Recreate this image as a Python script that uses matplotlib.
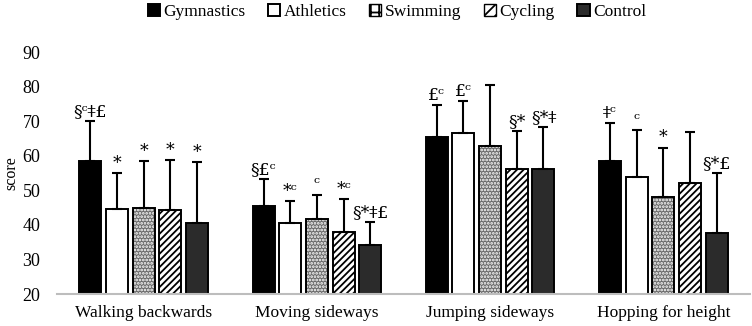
import matplotlib
matplotlib.use("Agg")
import matplotlib.pyplot as plt
import numpy as np

categories = ["Walking backwards", "Moving sideways", "Jumping sideways", "Hopping for height"]
groups = ["Gymnastics", "Athletics", "Swimming", "Cycling", "Control"]

gymnastics = [58.5, 45.5, 65.5, 58.5]
athletics = [44.6, 40.6, 66.5, 53.9]
swimming = [44.8, 41.7, 62.8, 48.0]
cycling = [44.3, 38.0, 56.1, 52.2]
control = [40.5, 34.2, 56.1, 37.6]

gymnastics_sd = [11.5, 7.8, 9.2, 11.1]
athletics_sd = [10.3, 6.4, 9.3, 13.7]
swimming_sd = [13.8, 7.1, 17.7, 14.4]
cycling_sd = [14.5, 9.5, 11.1, 14.6]
control_sd = [17.8, 6.7, 12.3, 17.5]

gymnastics_lbl = ["§ᶜǂ£", "§£ᶜ", "£ᶜ", "ǂᶜ"]
athletics_lbl = ["*", "*ᶜ", "£ᶜ", "ᶜ"]
swimming_lbl = ["*", "ᶜ", "", "*"]
cycling_lbl = ["*", "*ᶜ", "§*", ""]
control_lbl = ["*", "§*ǂ£", "§*ǂ", "§*£"]

yticks = [20, 30, 40, 50, 60, 70, 80, 90]

values = [gymnastics, athletics, swimming, cycling, control]
sds = [gymnastics_sd, athletics_sd, swimming_sd, cycling_sd, control_sd]
labels = [gymnastics_lbl, athletics_lbl, swimming_lbl, cycling_lbl, control_lbl]

# (facecolor, hatch, hatch colour)
styles = [
    ("black", None, None),
    ("white", None, None),
    ("#6a6a6a", ".....", "white"),
    ("white", "/////", "black"),
    ("#2b2b2b", None, None),
]

serif = ["Liberation Serif", "DejaVu Serif"]
plt.rcParams["font.family"] = serif
plt.rcParams["hatch.linewidth"] = 1.3

fig = plt.figure(figsize=(7.52, 3.26), dpi=100)
ax = fig.add_axes([0.0758, 0.098, 0.9215, 0.742])

x = np.arange(len(categories))
width = 0.127
pitch = 0.154

for i, (vals, sd, st, lbls, name) in enumerate(zip(values, sds, styles, labels, groups)):
    fc, hatch, hc = st
    pos = x + (i - 2) * pitch
    heights = [v - 20 for v in vals]
    if hatch:
        ax.bar(pos, heights, width, bottom=20, facecolor=fc, edgecolor=hc,
               linewidth=0, hatch=hatch, zorder=2)
        ax.bar(pos, heights, width, bottom=20, fill=False, edgecolor="black",
               linewidth=1.4, zorder=2.1)
        ax.bar([np.nan], [np.nan], facecolor=fc, edgecolor="black", hatch=None,
               linewidth=1.0, label=name)
    else:
        ax.bar(pos, heights, width, bottom=20, facecolor=fc, edgecolor="black",
               linewidth=1.4, label=name, zorder=2)
    ax.errorbar(pos, vals, yerr=[np.zeros(len(vals)), sd], fmt="none", ecolor="black",
                elinewidth=1.5, capsize=3.6, capthick=1.5, zorder=3)
    for p, v, s, t in zip(pos, vals, sd, lbls):
        if t:
            ax.text(p, v + s + 0.3, t, ha="center", va="bottom", fontsize=12.5,
                    family=["DejaVu Serif"], zorder=4)

ax.set_xlim(-0.5, 3.5)
ax.set_ylim(20, 90)
ax.set_yticks(yticks)
ax.set_yticklabels([str(t) for t in yticks], fontsize=13)
ax.set_xticks(x)
ax.set_xticklabels(categories, fontsize=12.5)
ax.tick_params(axis="both", length=0, pad=8)
ax.tick_params(axis="y", pad=12)
for s in ["top", "right", "left"]:
    ax.spines[s].set_visible(False)
ax.spines["bottom"].set_color("#bdbdbd")
ax.spines["bottom"].set_linewidth(1.5)
ax.set_ylabel("score", fontsize=11.5, labelpad=2)

handles, leg_labels = ax.get_legend_handles_labels()
order = [leg_labels.index(g) for g in groups]
leg = fig.legend([handles[k] for k in order], [leg_labels[k] for k in order],
                 loc="center", bbox_to_anchor=(0.528, 0.962), ncol=5, frameon=False,
                 fontsize=12.5, handlelength=0.7, handleheight=0.7, handletextpad=0.2,
                 columnspacing=1.3)
for h, g in zip(leg.legend_handles, groups):
    if g == "Swimming":
        h.set_hatch("++")
        h.set_facecolor("white")
    if g == "Cycling":
        h.set_hatch("///")
        h.set_facecolor("white")

fig.savefig("out.png", dpi=100)
